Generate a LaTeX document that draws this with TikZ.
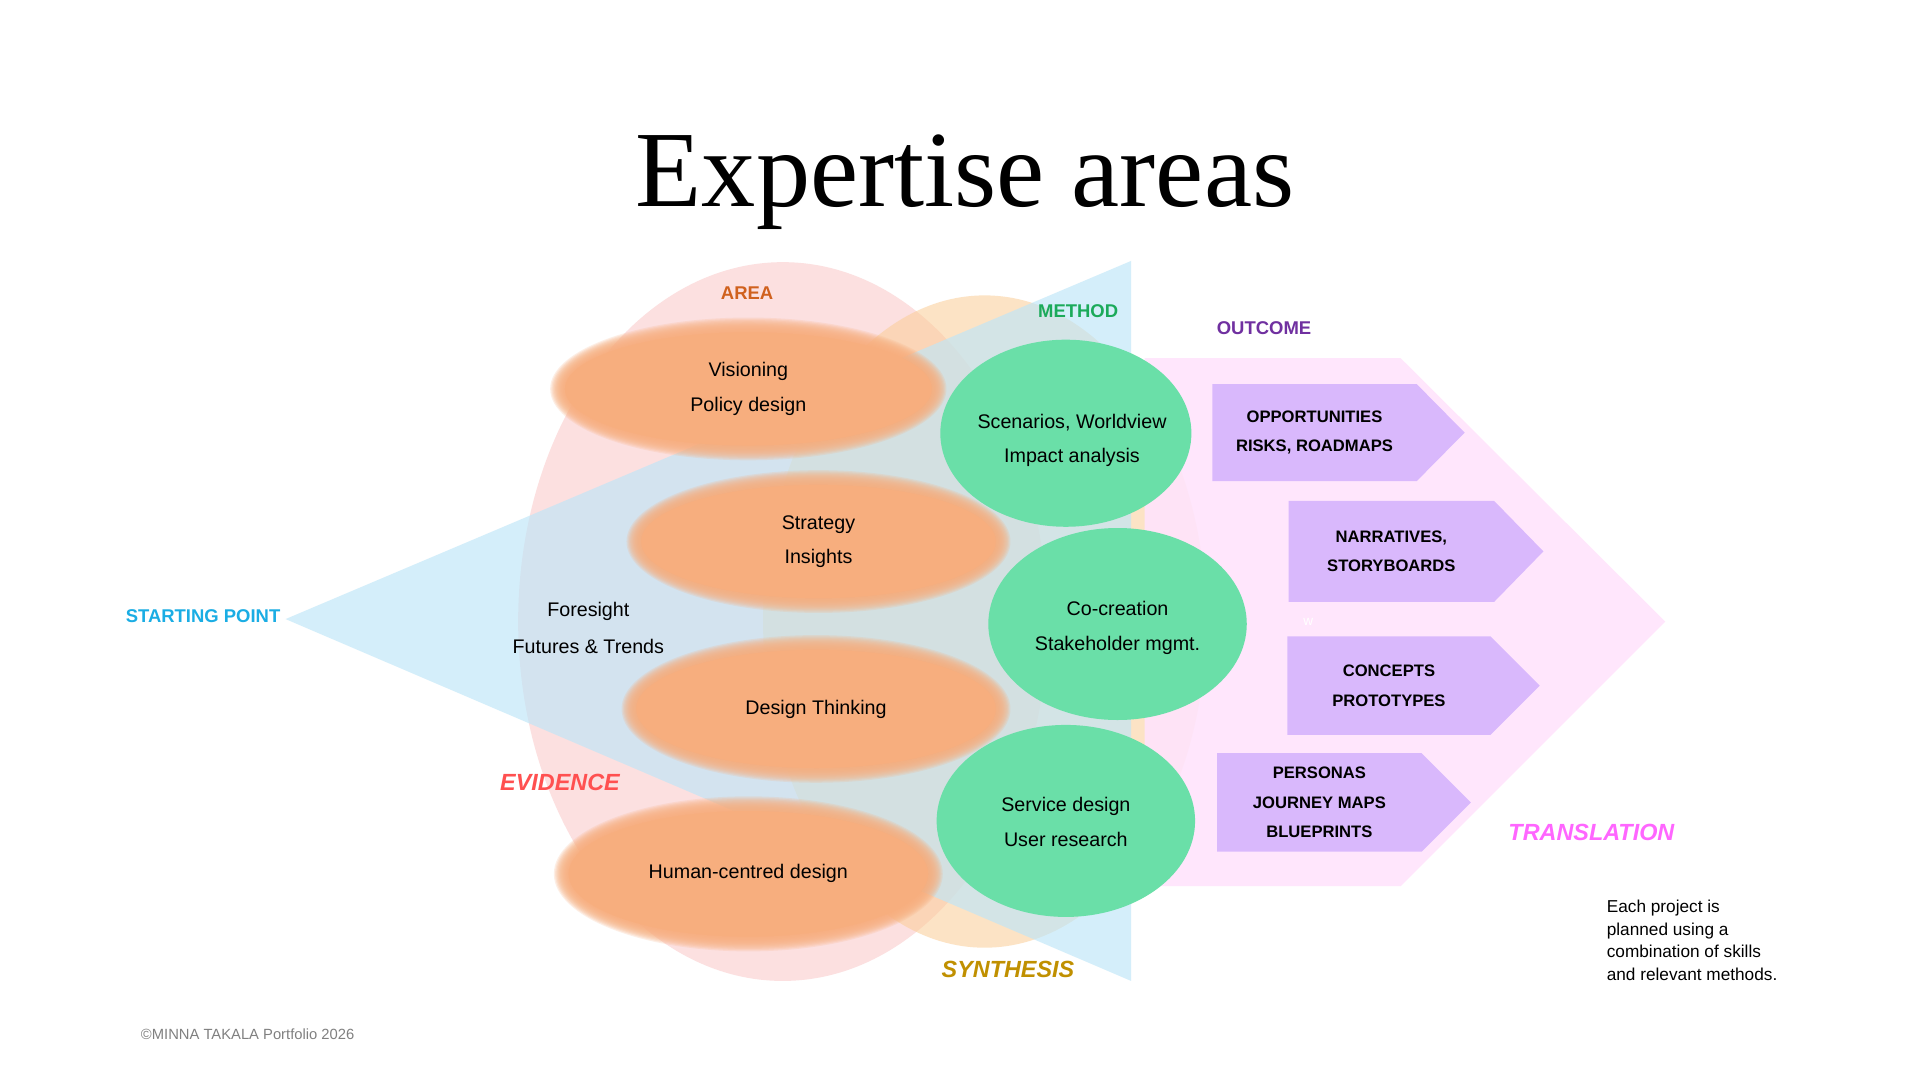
\documentclass[tikz,border=0pt]{standalone}
\usepackage{fontspec}
\setmainfont{Liberation Sans}
\newfontfamily\titlefont{Liberation Serif}
\begin{document}
\begin{tikzpicture}[x=1pt,y=-1pt,
  lbl/.style={font=\bfseries\fontsize{15}{18}\selectfont},
  big/.style={font=\bfseries\itshape\fontsize{19}{22}\selectfont},
  txt/.style={align=center,font=\fontsize{16}{28}\selectfont},
  outtxt/.style={align=center,font=\bfseries\fontsize{13.5}{24}\selectfont}]
\definecolor{orangeE}{HTML}{F7AE7E}
\definecolor{greenE}{HTML}{6ADFA8}
\definecolor{purp}{HTML}{D9B8FC}
\useasboundingbox[fill=white] (0,0) rectangle (1560,877.5);
% background shapes
\fill[fill={rgb,255:red,252;green,224;blue,224}] (636,505) ellipse[x radius=215,y radius=292];
\fill[fill={rgb,255:red,251;green,205;blue,150},opacity=0.55] (800,505) ellipse[x radius=180,y radius=265];
\fill[fill={rgb,255:red,190;green,230;blue,248},opacity=0.65] (232,503) -- (919,212) -- (919,797) -- cycle;
\fill[fill={rgb,255:red,255;green,228;blue,252},opacity=0.9] (930,291) -- (1138,291) -- (1353,505) -- (1138,720) -- (930,720) -- cycle;
% orange ellipses (soft edge)
\foreach \n/\cx/\cy/\rx/\ry/\t in {a/608/316/155/52/{Visioning\\Policy design},b/665/440/150/52/{Strategy\\Insights},c/663/576/152/54/{Design Thinking},d/608/710/152/57/{Human-centred design}}{
  \foreach \d in {6,5,4,3,2,1,0,-1,-2,-3,-4,-5,-6}{
    \fill[orangeE,opacity=0.2] (\cx,\cy) ellipse[x radius=\rx+\d,y radius=\ry+\d];
  }
  \fill[orangeE] (\cx,\cy) ellipse[x radius=\rx-6,y radius=\ry-6];
  \node[txt] (o\n) at (\cx,\cy) {\t};
}
% green circles
\fill[greenE] (866,352) ellipse[x radius=102,y radius=76];
\node[txt] (g1) at (871,358) {Scenarios, Worldview\\Impact analysis};
\fill[greenE] (908,507) ellipse[x radius=105,y radius=78];
\node[txt] (g2) at (908,510) {Co-creation\\Stakeholder mgmt.};
\fill[greenE] (866,667) ellipse[x radius=105,y radius=78];
\node[txt] (g3) at (866,668) {Service design\\User research};
% purple arrows
\foreach \n/\xa/\xb/\xt/\ya/\yb/\t in {p1/985/1151/1190/312/391/{OPPORTUNITIES\\RISKS, ROADMAPS},p2/1047/1214/1254/407/489/{NARRATIVES,\\STORYBOARDS},p3/1046/1211/1251/517/597/{CONCEPTS\\PROTOTYPES},p4/989/1155/1195/612/692/{PERSONAS\\JOURNEY MAPS\\BLUEPRINTS}}{
  \fill[purp] (\xa,\ya) -- (\xb,\ya) -- (\xt,{(\ya+\yb)/2}) -- (\xb,\yb) -- (\xa,\yb) -- cycle;
  \node[outtxt] (\n) at ({(\xa+\xb)/2},{(\ya+\yb)/2}) {\t};
}
% labels
\node[font=\titlefont\fontsize{88}{90}\selectfont] (title) at (784,148) {Expertise areas};
\node[lbl,text={rgb,255:red,208;green,97;blue,30}] (area) at (607,238) {AREA};
\node[lbl,text={rgb,255:red,27;green,170;blue,90}] (method) at (876,253) {METHOD};
\node[lbl,text={rgb,255:red,112;green,48;blue,160}] (outcome) at (1027,267) {OUTCOME};
\node[lbl,text={rgb,255:red,26;green,173;blue,228}] (start) at (165,501) {STARTING POINT};
\node[big,text={rgb,255:red,255;green,80;blue,80}] (evid) at (455,636) {EVIDENCE};
\node[big,text={rgb,255:red,192;green,144;blue,0}] (synth) at (819,788) {SYNTHESIS};
\node[big,text={rgb,255:red,255;green,102;blue,255}] (transl) at (1293,676) {TRANSLATION};
\node[align=center,font=\fontsize{16}{30}\selectfont] (fore) at (478,510) {Foresight\\Futures \& Trends};
\node[text=white,font=\fontsize{11}{12}\selectfont] (w) at (1063,505) {w};
\node[anchor=north west,align=left,font=\fontsize{14}{18.3}\selectfont] (note) at (1302,728) {Each project is\\planned using a\\combination of skills\\and relevant methods.};
\node[anchor=west,text=gray,font=\fontsize{12}{14}\selectfont] (copy) at (111,840) {\textcopyright{}MINNA TAKALA Portfolio 2026};
\end{tikzpicture}
\end{document}
